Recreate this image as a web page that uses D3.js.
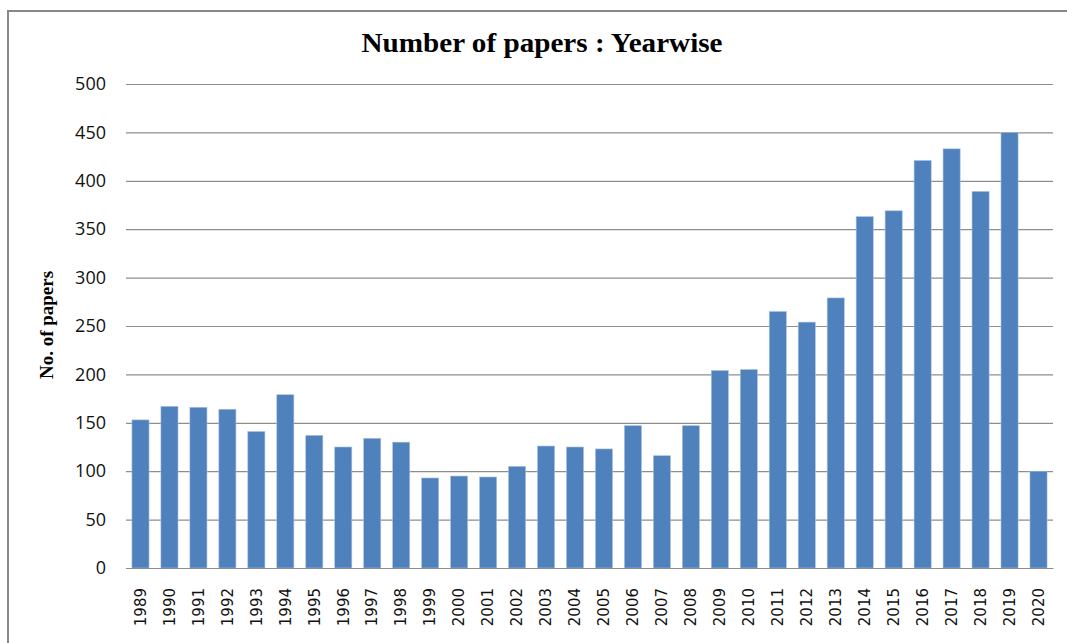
<!DOCTYPE html>
<html>
<head>
<meta charset="utf-8">
<script src="https://cdn.jsdelivr.net/npm/d3@7"></script>
<style>
  body { margin: 0; background: #fff; }
  #chart { width: 1067px; height: 643px; }
</style>
</head>
<body>
<div id="chart"></div>
<script>
// data
const years = ["1989","1990","1991","1992","1993","1994","1995","1996","1997","1998",
  "1999","2000","2001","2002","2003","2004","2005","2006","2007","2008",
  "2009","2010","2011","2012","2013","2014","2015","2016","2017","2018","2019","2020"];
const papers = [153,167,166,164,141,179,137,125,134,130,
  93,95,94,105,126,125,123,147,116,147,
  204,205,265,254,279,363,369,421,433,389,450,100];
const yTicks = [0,50,100,150,200,250,300,350,400,450,500];

const W = 1067, H = 643;
const margin = { top: 84, right: 14, bottom: 75, left: 126 };
const width = W - margin.left - margin.right;
const height = H - margin.top - margin.bottom;

const svg = d3.select("#chart").append("svg")
    .attr("width", W)
    .attr("height", H);

// outer frame (top + left only visible)
svg.append("path")
    .attr("d", "M8,643 L8,11 L1067,11")
    .attr("fill", "none")
    .attr("stroke", "#888")
    .attr("stroke-width", 2);

svg.append("text")
    .attr("x", 542)
    .attr("y", 52)
    .attr("text-anchor", "middle")
    .attr("font-family", "'Liberation Serif', 'Times New Roman', serif")
    .attr("font-weight", "bold")
    .attr("font-size", 28)
    .attr("textLength", 361)
    .attr("lengthAdjust", "spacingAndGlyphs")
    .text("Number of papers : Yearwise");

svg.append("text")
    .attr("transform", "translate(53,325) rotate(-90)")
    .attr("text-anchor", "middle")
    .attr("font-family", "'Liberation Serif', 'Times New Roman', serif")
    .attr("font-weight", "bold")
    .attr("font-size", 19)
    .text("No. of papers");

const g = svg.append("g")
    .attr("transform", "translate(" + margin.left + "," + margin.top + ")");

const x = d3.scaleBand()
    .domain(years)
    .range([0, width])
    .paddingInner(0.41)
    .paddingOuter(0.205);

const y = d3.scaleLinear()
    .domain([0, 500])
    .range([height, 0]);

// gridlines
g.append("g")
    .attr("class", "grid")
    .call(d3.axisLeft(y).tickValues(yTicks).tickSize(-width).tickFormat(""))
    .call(s => s.select(".domain").remove())
    .call(s => s.selectAll("line").attr("stroke", "#8e8e8e").attr("stroke-width", 1.2));

// y labels
g.append("g")
    .attr("class", "y-axis")
    .call(d3.axisLeft(y).tickValues(yTicks).tickSize(0).tickPadding(20))
    .call(s => s.select(".domain").remove())
    .call(s => s.selectAll("text")
        .attr("font-family", "'Open Sans', sans-serif")
        .attr("font-size", 18)
        .attr("fill", "#111"));

// bars
g.selectAll(".bar")
    .data(years.map((d, i) => ({ name: d, value: papers[i] })))
    .enter().append("rect")
    .attr("class", "bar")
    .attr("x", d => x(d.name))
    .attr("y", d => y(d.value))
    .attr("width", x.bandwidth())
    .attr("height", d => height - y(d.value))
    .attr("fill", "#4f81bd")
    .attr("stroke", "#a9c1e0")
    .attr("stroke-width", 0.6);

// x axis
g.append("g")
    .attr("class", "x-axis")
    .attr("transform", "translate(0," + height + ")")
    .call(d3.axisBottom(x).tickSize(0).tickPadding(0))
    .call(s => s.select(".domain").attr("stroke", "#8e8e8e").attr("stroke-width", 1.2))
    .call(s => s.selectAll("text")
        .attr("font-family", "'DejaVu Sans', Verdana, sans-serif")
        .attr("font-size", 15)
        .attr("fill", "#111")
        .attr("text-anchor", "end")
        .attr("transform", "rotate(-90)")
        .attr("x", -20)
        .attr("y", 0)
        .attr("dy", "0.35em"));
</script>
</body>
</html>
